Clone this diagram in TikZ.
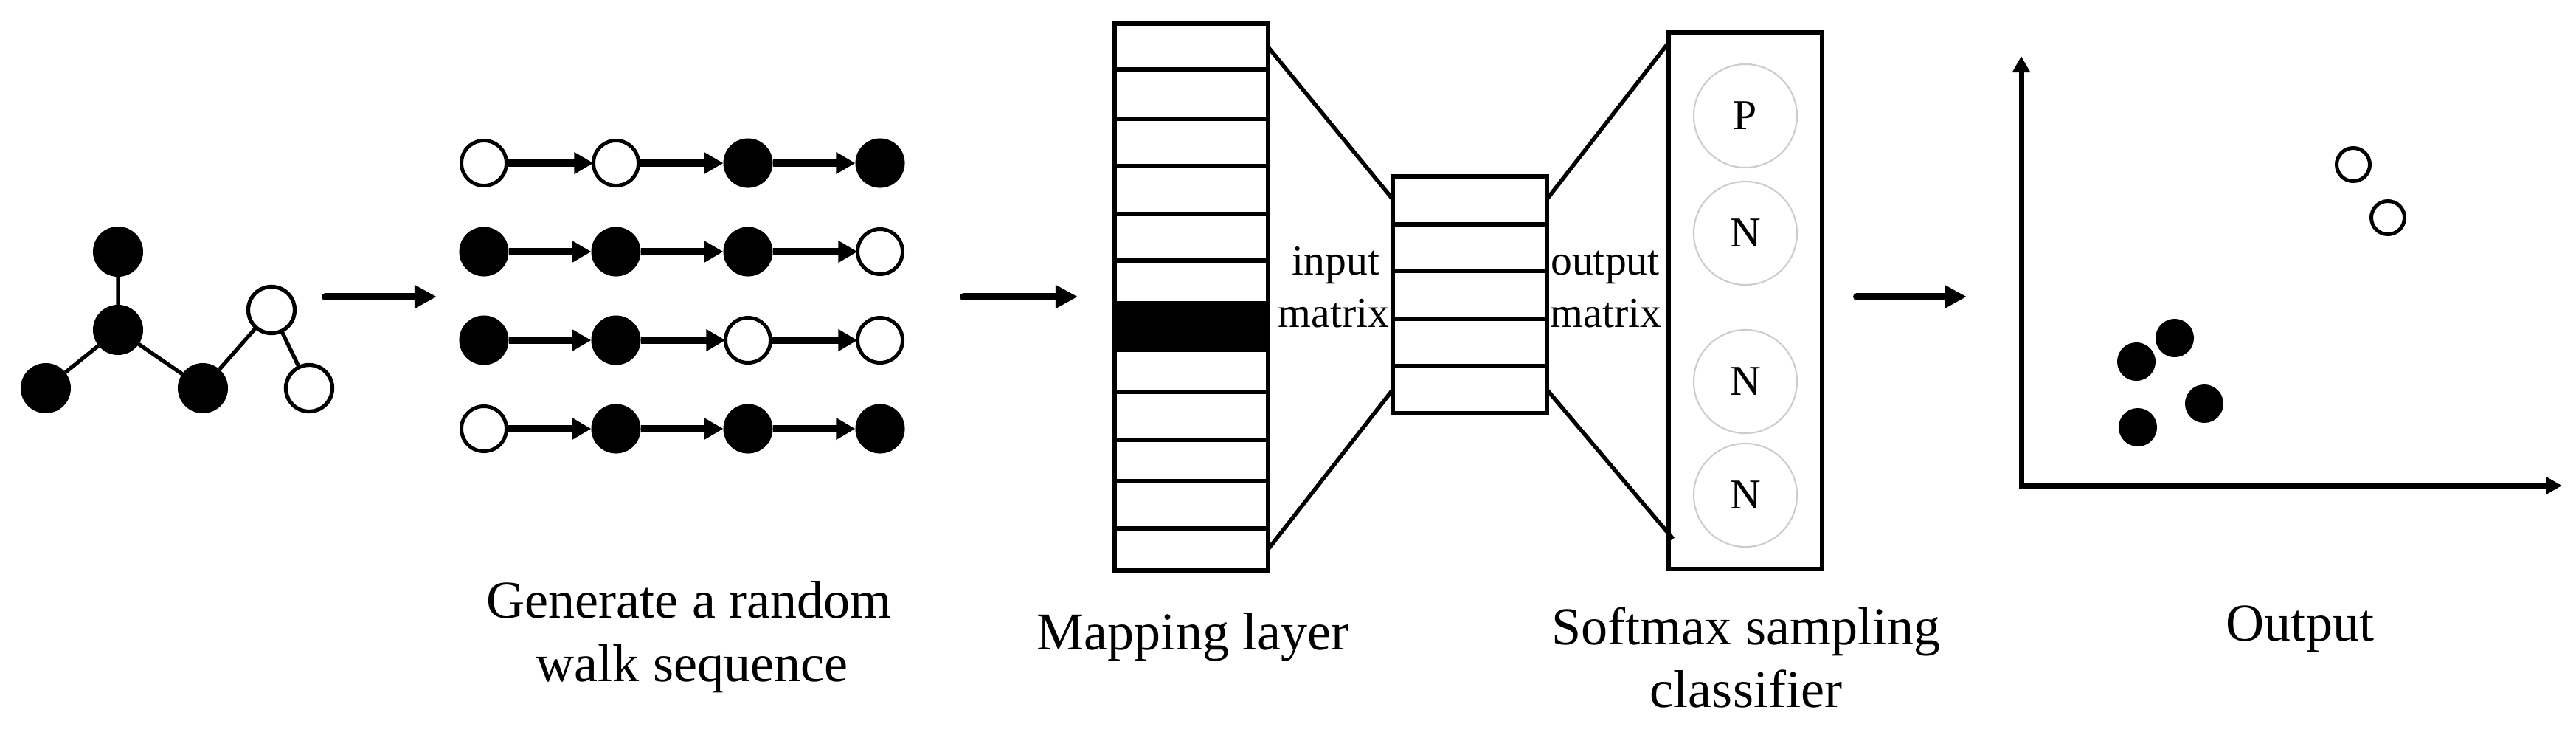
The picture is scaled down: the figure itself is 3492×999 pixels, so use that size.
\documentclass[tikz,border=0pt]{standalone}
\usepackage{fontspec}
\setmainfont{Liberation Serif}
\usetikzlibrary{arrows.meta,calc}
\newcommand\labfont{\fontsize{20.5}{24}\selectfont}
\newcommand\matfont{\fontsize{16.4}{20}\selectfont}
\begin{document}
\begin{tikzpicture}[x=0.01cm,y=-0.01cm,
  gfill/.style={circle,fill=black,inner sep=0,outer sep=0,minimum size=0.68cm},
  gopen/.style={circle,draw=black,fill=white,line width=1.5pt,inner sep=0,outer sep=0,minimum size=0.63cm},
  sfill/.style={circle,fill=black,inner sep=0,outer sep=0,minimum size=0.67cm},
  sopen/.style={circle,draw=black,fill=white,line width=1.42pt,inner sep=0,outer sep=0,minimum size=0.61cm},
  ofill/.style={circle,fill=black,inner sep=0,outer sep=0,minimum size=0.52cm},
  oopen/.style={circle,draw=black,fill=white,line width=1.42pt,inner sep=0,outer sep=0,minimum size=0.45cm},
  gedge/.style={line width=1.5pt},
  seqarrow/.style={line width=2.85pt,-{Triangle[length=0.26cm,width=0.28cm]}},
  bigarrow/.style={line width=2.85pt,line cap=round,-{Triangle[length=0.30cm,width=0.30cm]}},
  axisline/.style={line width=2pt,line join=miter,{Triangle[length=0.22cm,width=0.23cm]}-{Triangle[length=0.22cm,width=0.23cm]}},
  boxline/.style={line width=1.56pt},
  mbox/.style={rectangle,draw=black,line width=1.56pt,inner sep=0,outer sep=0},
  pn/.style={circle,draw=black!20,line width=0.6pt,inner sep=0,outer sep=0,minimum size=1.40cm,font=\matfont},
  lab/.style={anchor=base,inner sep=0,outer sep=0,font=\labfont},
  mlab/.style={anchor=base,inner sep=0,outer sep=0,font=\matfont}]
\useasboundingbox (0,0) rectangle (3492,999);

% --- input graph ---
\node[gfill] (g1) at (160,341) {};
\node[gfill] (g2) at (160,447) {};
\node[gfill] (g3) at (62,526) {};
\node[gfill] (g4) at (275,526) {};
\node[gopen] (g5) at (368,420) {};
\node[gopen] (g6) at (419,526) {};
\draw[gedge] (g1)--(g2) (g2)--(g3) (g2)--(g4) (g4)--(g5) (g5)--(g6);

% --- arrow 1 ---
\coordinate (a1s) at (441,402);
\coordinate (a1e) at (592,402);
\draw[bigarrow] (a1s)--(a1e);

% --- random walk sequences ---
\node[sopen] (s11) at (656,221) {};
\node[sopen] (s12) at (835,221) {};
\node[sfill] (s13) at (1014,221) {};
\node[sfill] (s14) at (1193,221) {};
\node[sfill] (s21) at (656,341) {};
\node[sfill] (s22) at (835,341) {};
\node[sfill] (s23) at (1014,341) {};
\node[sopen] (s24) at (1193,341) {};
\node[sfill] (s31) at (656,461) {};
\node[sfill] (s32) at (835,461) {};
\node[sopen] (s33) at (1014,461) {};
\node[sopen] (s34) at (1193,461) {};
\node[sopen] (s41) at (656,581) {};
\node[sfill] (s42) at (835,581) {};
\node[sfill] (s43) at (1014,581) {};
\node[sfill] (s44) at (1193,581) {};
\foreach \r in {1,2,3,4}{
  \draw[seqarrow] (s\r1)--(s\r2);
  \draw[seqarrow] (s\r2)--(s\r3);
  \draw[seqarrow] (s\r3)--(s\r4);
}
\node[lab] (l1a) at (934,837) {Generate a random};
\node[lab] (l1b) at (938,923) {walk sequence};

% --- arrow 2 ---
\coordinate (a2s) at (1306,402);
\coordinate (a2e) at (1461,402);
\draw[bigarrow] (a2s)--(a2e);

% --- mapping layer ---
\fill[black] (1511,408) rectangle (1719,477);
\foreach \yy in {94,161,225,290,353,531,596,652,716}{
  \draw[boxline] (1511,\yy)--(1719,\yy);
}
\node[mbox,minimum width=2.08cm,minimum height=7.41cm] (map) at (1615,402.5) {};
\node[lab] (l2) at (1617,880) {Mapping layer};

% --- hidden layer ---
\foreach \yy in {304,367,432,496}{
  \draw[boxline] (1888,\yy)--(2097,\yy);
}
\node[mbox,minimum width=2.09cm,minimum height=3.21cm] (hid) at (1992.5,399.5) {};
\node[mlab] (in1) at (1811,372) {input};
\node[mlab] (in2) at (1808,443) {matrix};
\node[mlab] (out1) at (2176,372) {output};
\node[mlab] (out2) at (2177,443) {matrix};

% --- softmax classifier ---
\node[mbox,minimum width=2.08cm,minimum height=7.27cm] (soft) at (2366,407.5) {};
\node[pn] (p1) at (2366,157) {P};
\node[pn] (n1) at (2366,316) {N};
\node[pn] (n2) at (2366,517) {N};
\node[pn] (n3) at (2366,671) {N};
\node[lab] (l3a) at (2367,873) {Softmax sampling};
\node[lab] (l3b) at (2367,958) {classifier};

% --- connecting lines ---
\draw[boxline] ($(map.north east)+(0,32)$) -- ($(hid.north west)+(0,31)$);
\draw[boxline] ($(map.south east)+(0,-29)$) -- ($(hid.south west)+(0,-32)$);
\draw[boxline] ($(hid.north east)+(0,31)$) -- ($(soft.north west)+(0,14)$);
\draw[boxline] ($(hid.south east)+(0,-32)$) -- ($(soft.south west)+(6,-41)$);

% --- arrow 3 ---
\coordinate (a3s) at (2517,402);
\coordinate (a3e) at (2666,402);
\draw[bigarrow] (a3s)--(a3e);

% --- output plot ---
\coordinate (ytop) at (2740,76);
\coordinate (org) at (2740,658);
\coordinate (xend) at (3473,658);
\draw[axisline] (ytop)--(org)--(xend);
\node[oopen] (o1) at (3190,223) {};
\node[oopen] (o2) at (3237,295) {};
\node[ofill] (f1) at (2948,458) {};
\node[ofill] (f2) at (2896,490) {};
\node[ofill] (f3) at (2988,547) {};
\node[ofill] (f4) at (2898,579) {};
\node[lab] (l4) at (3118,868) {Output};
\end{tikzpicture}
\end{document}
